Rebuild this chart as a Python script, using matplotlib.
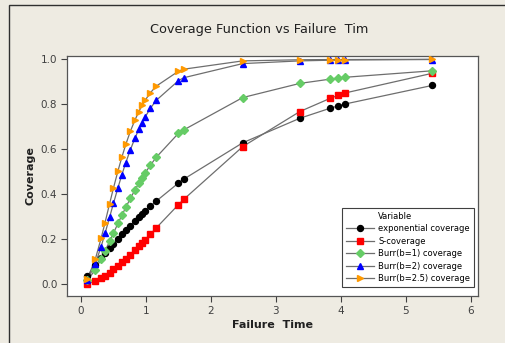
import matplotlib
matplotlib.use("Agg")
import matplotlib.pyplot as plt
from matplotlib.lines import Line2D
from matplotlib.patches import Rectangle

failure_time = [0.10, 0.22, 0.31, 0.37, 0.44, 0.50, 0.57, 0.63, 0.69, 0.76, 0.83, 0.89,
                0.94, 0.99, 1.07, 1.16, 1.50, 1.58, 2.49, 3.37, 3.84, 3.96, 4.06, 5.41]
exponential_cov = [0.039, 0.084, 0.116, 0.137, 0.161, 0.180, 0.203, 0.222, 0.240, 0.261, 0.281, 0.298,
                   0.312, 0.326, 0.347, 0.370, 0.450, 0.467, 0.629, 0.738, 0.783, 0.793, 0.801, 0.884]
s_cov = [0.003, 0.015, 0.028, 0.039, 0.052, 0.066, 0.082, 0.097, 0.113, 0.132, 0.152, 0.169,
         0.184, 0.199, 0.223, 0.251, 0.354, 0.377, 0.612, 0.768, 0.827, 0.840, 0.850, 0.938]
burr1_cov = [0.017, 0.065, 0.113, 0.148, 0.191, 0.228, 0.271, 0.307, 0.342, 0.382, 0.419, 0.449,
             0.473, 0.496, 0.530, 0.565, 0.671, 0.686, 0.830, 0.893, 0.912, 0.917, 0.920, 0.949]
burr2_cov = [0.020, 0.090, 0.168, 0.226, 0.298, 0.360, 0.430, 0.488, 0.541, 0.598, 0.649, 0.689,
             0.718, 0.745, 0.783, 0.818, 0.905, 0.918, 0.981, 0.993, 0.996, 0.996, 0.997, 0.999]
burr25_cov = [0.025, 0.111, 0.205, 0.274, 0.358, 0.428, 0.505, 0.566, 0.622, 0.680, 0.730, 0.767,
              0.795, 0.819, 0.852, 0.881, 0.947, 0.956, 0.993, 0.998, 0.999, 0.999, 0.999, 1.000]

series_names = ["exponential coverage", "S-coverage", "Burr(b=1) coverage",
                "Burr(b=2) coverage", "Burr(b=2.5) coverage"]
series_values = [exponential_cov, s_cov, burr1_cov, burr2_cov, burr25_cov]
x_ticks = [0, 1, 2, 3, 4, 5, 6]
y_ticks = [0.0, 0.2, 0.4, 0.6, 0.8, 1.0]

colors = ["#000000", "#FF0000", "#66CC66", "#0000FF", "#FF9900"]
markers = ["o", "s", "D", "^", ">"]
msizes = [4.3, 4.3, 4.0, 5.0, 5.0]

W, H = 506, 343
fig = plt.figure(figsize=(W / 100, H / 100), dpi=100)
bg = "#EEEBE2"
fig.patch.set_facecolor(bg)
fig.patches.append(Rectangle((9 / W, -0.1), 1.2, (H - 5) / H + 0.1, transform=fig.transFigure,
                             fill=False, edgecolor="#303030", linewidth=1.0))

ax = fig.add_axes([67 / W, (H - 296) / H, 411 / W, 240 / H])
ax.set_facecolor("white")

for name, vals, c, m, ms in zip(series_names, series_values, colors, markers, msizes):
    ax.plot(failure_time, vals, color="#6E6E6E", linewidth=0.9, zorder=2)
    ax.plot(failure_time, vals, linestyle="none", marker=m, markersize=ms,
            markerfacecolor=c, markeredgecolor=c, zorder=3)

ax.set_xlim(-0.2155, 6.112)
ax.set_ylim(-0.052, 1.0147)
ax.set_xticks(x_ticks)
ax.set_xticklabels([str(v) for v in x_ticks])
ax.set_yticks(y_ticks)
ax.set_yticklabels([f"{v:.1f}" for v in y_ticks])
ax.tick_params(axis="both", direction="out", length=4, width=0.8, color="#404040",
               labelsize=7.5, labelcolor="#404040", pad=3)
for sp in ax.spines.values():
    sp.set_color("#555555")
    sp.set_linewidth(0.9)

ax.set_xlabel("Failure  Time", fontsize=8, fontweight="bold", color="#202020", labelpad=3)
ax.set_ylabel("Coverage", fontsize=8, fontweight="bold", color="#202020", labelpad=4)

fig.text(259 / W, 1 - 30 / H, "Coverage Function vs Failure  Tim", ha="center", va="center",
         fontsize=9.3, color="#202020")

handles = [Line2D([0], [0], linestyle="none", marker="none")]
handles += [Line2D([0], [0], color="#6E6E6E", linewidth=0.9, marker=m, markersize=ms,
                   markerfacecolor=c, markeredgecolor=c)
            for c, m, ms in zip(colors, markers, msizes)]
labels = ["Variable"] + series_names
leg = ax.legend(handles, labels, loc="lower right",
                bbox_to_anchor=(1.0, 0.02), fontsize=6,
                frameon=True, fancybox=False, framealpha=1, edgecolor="#404040",
                handlelength=3.4, handletextpad=0.5, labelspacing=0.42, borderpad=0.45)
leg.get_frame().set_linewidth(0.8)

fig.savefig("out.png", dpi=100, facecolor=bg)
